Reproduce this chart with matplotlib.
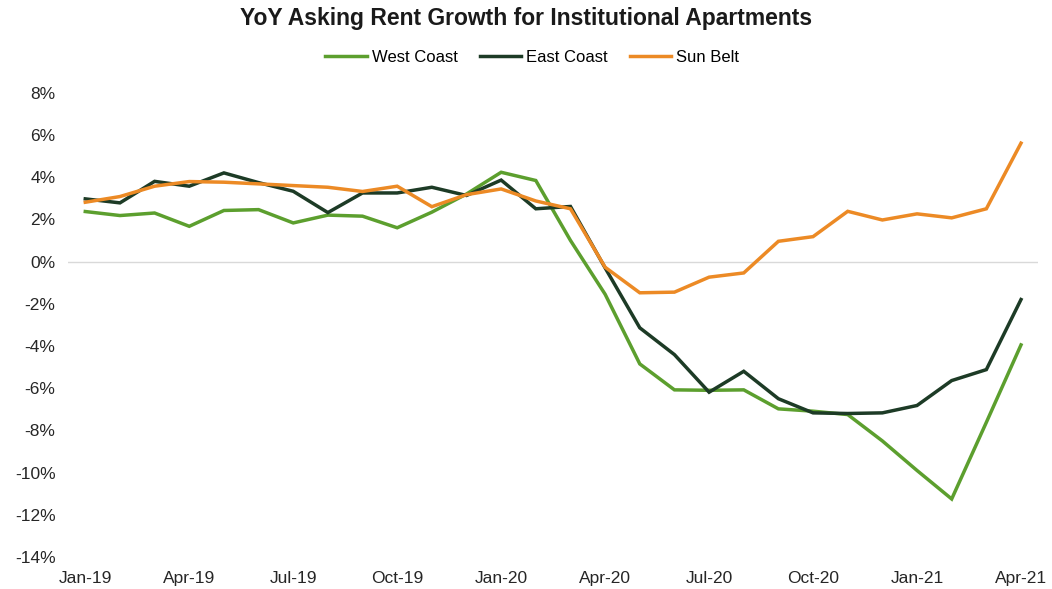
import matplotlib.pyplot as plt
from matplotlib.ticker import FuncFormatter

# monthly, Jan-19 .. Apr-21
months = ['Jan-19', 'Feb-19', 'Mar-19', 'Apr-19', 'May-19', 'Jun-19', 'Jul-19',
          'Aug-19', 'Sep-19', 'Oct-19', 'Nov-19', 'Dec-19', 'Jan-20', 'Feb-20',
          'Mar-20', 'Apr-20', 'May-20', 'Jun-20', 'Jul-20', 'Aug-20', 'Sep-20',
          'Oct-20', 'Nov-20', 'Dec-20', 'Jan-21', 'Feb-21', 'Mar-21', 'Apr-21']

west_coast = [2.37, 2.18, 2.30, 1.67, 2.42, 2.46, 1.83, 2.20, 2.15, 1.60,
              2.34, 3.20, 4.23, 3.84, 1.00, -1.55, -4.85, -6.08, -6.10, -6.08,
              -6.98, -7.09, -7.25, -8.50, -9.90, -11.25, -7.62, -3.95]

east_coast = [2.97, 2.78, 3.80, 3.57, 4.20, 3.74, 3.33, 2.32, 3.25, 3.25,
              3.52, 3.13, 3.86, 2.50, 2.61, -0.30, -3.14, -4.41, -6.19, -5.20,
              -6.50, -7.17, -7.20, -7.17, -6.82, -5.64, -5.12, -1.80]

sun_belt = [2.81, 3.08, 3.57, 3.79, 3.76, 3.68, 3.60, 3.52, 3.32, 3.57,
            2.60, 3.17, 3.44, 2.87, 2.50, -0.27, -1.48, -1.45, -0.74, -0.54,
            0.96, 1.18, 2.38, 1.97, 2.26, 2.07, 2.50, 5.61]

label_every = 3

plt.rcParams['font.family'] = ['Liberation Sans', 'DejaVu Sans']

fig = plt.figure(figsize=(10.52, 5.89), dpi=100)
ax = fig.add_axes([0.0646, 0.0543, 0.9224, 0.7883])

x = list(range(len(months)))
ax.plot(x, west_coast, color='#5c9f2e', linewidth=2.5, label='West Coast', solid_joinstyle='miter')
ax.plot(x, east_coast, color='#1d3b26', linewidth=2.5, label='East Coast', solid_joinstyle='miter')
ax.plot(x, sun_belt, color='#ec8a25', linewidth=2.5, label='Sun Belt', solid_joinstyle='miter')

# only the zero line, no other grid
ax.axhline(0, color='#d9d9d9', linewidth=1.0, zorder=0)

ax.set_xlim(-0.5, len(months) - 0.5)
ax.set_ylim(-14, 8)
ax.set_yticks(range(-14, 9, 2))
ax.yaxis.set_major_formatter(FuncFormatter(lambda v, p: f'{v:.0f}%'))
ax.set_xticks(x[::label_every])
ax.set_xticklabels(months[::label_every])

for s in ax.spines.values():
    s.set_visible(False)
ax.tick_params(length=0, labelsize=12.5, colors='#262626')
ax.tick_params(axis='y', pad=9)
ax.tick_params(axis='x', pad=10)

fig.suptitle('YoY Asking Rent Growth for Institutional Apartments',
             fontsize=16.5, fontweight='bold', y=0.988, color='#1a1a1a')
fig.legend(loc='center', bbox_to_anchor=(0.506, 0.903), ncol=3, frameon=False,
           fontsize=12, handlelength=2.5, handletextpad=0.3, columnspacing=1.3)

fig.savefig('out.png', dpi=100)
